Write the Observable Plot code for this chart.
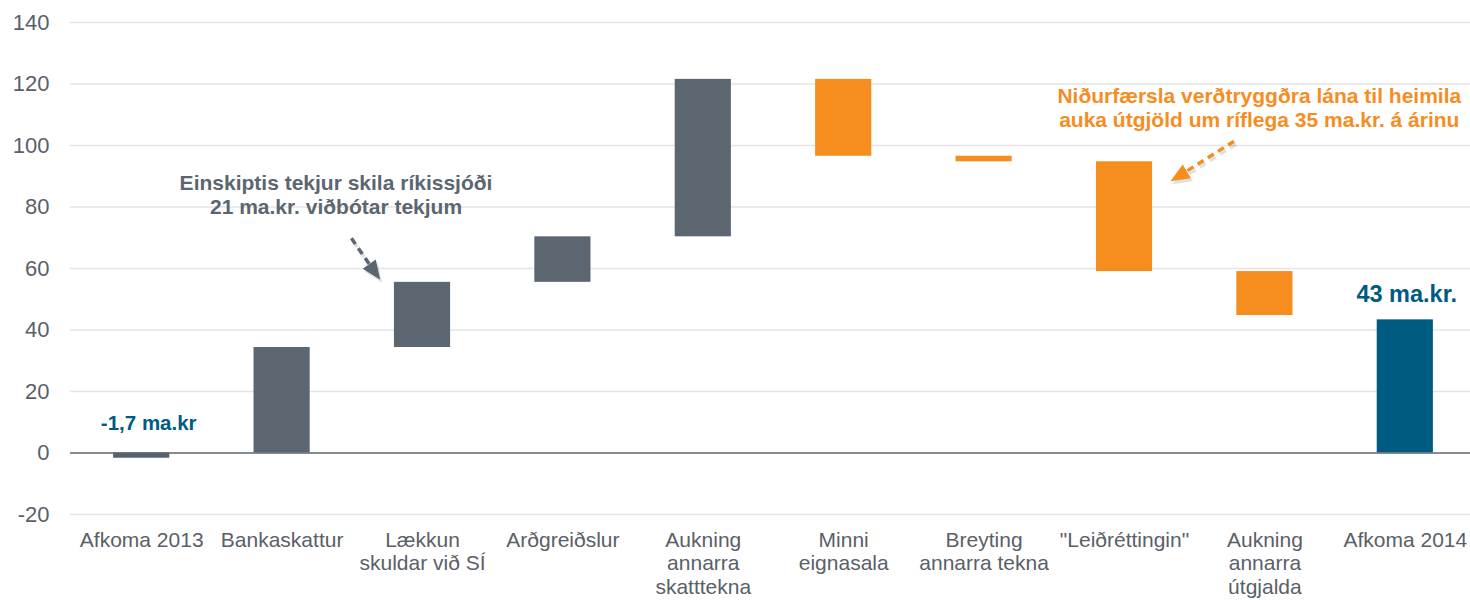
<!DOCTYPE html>
<html>
<head>
<meta charset="utf-8">
<script src="https://cdn.jsdelivr.net/npm/d3@7"></script>
<script src="https://cdn.jsdelivr.net/npm/@observablehq/plot@0.6"></script>
<style>
  html, body { margin: 0; padding: 0; background: #fff; }
  #chart { width: 1470px; height: 600px; }
</style>
</head>
<body>
<div id="chart"></div>
<script>
// ---- data ----
const categories = [
  "Afkoma 2013",
  "Bankaskattur",
  "Lækkun\nskuldar við SÍ",
  "Arðgreiðslur",
  "Aukning\nannarra\nskatttekna",
  "Minni\neignasala",
  "Breyting\nannarra tekna",
  "\"Leiðréttingin\"",
  "Aukning\nannarra\nútgjalda",
  "Afkoma 2014"
];
const barStart = [0, 0, 34.3, 55.5, 70.3, 121.5, 96.5, 94.7, 59.0, 0];
const barEnd   = [-1.7, 34.3, 55.5, 70.3, 121.5, 96.5, 94.7, 59.0, 44.7, 43.3];
const barKind  = ["start", "up", "up", "up", "up", "down", "down", "down", "down", "total"];
const yTicks = [-20, 0, 20, 40, 60, 80, 100, 120, 140];

// annotations (data coordinates: x = category index, y = value)
const startLabel = {t: "-1,7 ma.kr", x: 0.05, y: 9.6};
const endLabel = {t: "43 ma.kr.", x: 9.01, y: 51.4};

const noteTexts = [
  "Einskiptis tekjur skila ríkissjóði\n21 ma.kr. viðbótar tekjum",
  "Niðurfærsla verðtryggðra lána til heimila\nauka útgjöld um ríflega 35 ma.kr. á árinu"
];
const noteX = [1.384, 7.96];
const noteY = [84, 112.4];
const noteKind = ["grey", "orange"];

const arrowX1 = [1.494, 7.78];
const arrowY1 = [69.8, 101.4];
const arrowX2 = [1.650, 7.40];
const arrowY2 = [59.5, 90.4];
const arrowKind = ["grey", "orange"];
const arrowRotate = [145, 239];

// ---- build ----
const colors = {start: "#56626d", up: "#5b6670", down: "#f58d1f", total: "#005b82", grey: "#5b6670", orange: "#f58d1f", blue: "#005b82"};
const bars = categories.map((c, i) => ({i, start: barStart[i], end: barEnd[i], kind: barKind[i]}));
const notes = noteTexts.map((t, i) => ({t, x: noteX[i], y: noteY[i], kind: noteKind[i]}));
const arrows = arrowX1.map((d, i) => ({x1: arrowX1[i], y1: arrowY1[i], x2: arrowX2[i], y2: arrowY2[i], kind: arrowKind[i], rot: arrowRotate[i]}));

// narrow arrowhead symbol pointing up, centred near its middle
const arrowHead = {
  draw(context, size) {
    const s = Math.sqrt(size);
    context.moveTo(0, -s * 0.75);
    context.lineTo(s * 0.5, s * 0.45);
    context.lineTo(-s * 0.5, s * 0.45);
    context.closePath();
  }
};

const font = "Arial, 'Liberation Sans', sans-serif";

const chart = Plot.plot({
  width: 1470,
  height: 600,
  marginLeft: 70,
  marginRight: 0,
  marginTop: 22,
  marginBottom: 86,
  style: {fontFamily: font, fontSize: "21px", color: "#5a6068", background: "#fff"},
  x: {type: "linear", domain: [-0.5, 9.5], range: [71, 1475], axis: null},
  y: {domain: [-20, 140], axis: null},
  marks: [
    Plot.ruleY(yTicks.filter(d => d !== 0), {stroke: "#e4e4e4", strokeWidth: 1.5}),
    Plot.axisY(yTicks, {tickSize: 0, tickPadding: 21, label: null, fontSize: 22, tickFormat: d => String(d)}),
    Plot.rectY(bars, {
      x1: d => d.i - 0.2,
      x2: d => d.i + 0.2,
      y1: "start",
      y2: "end",
      fill: d => colors[d.kind]
    }),
    Plot.ruleY([0], {stroke: "#5b6670", strokeWidth: 1.5}),
    Plot.axisX(d3.range(categories.length), {
      tickSize: 0,
      tickPadding: 15,
      label: null,
      fontSize: 21,
      lineHeight: 1.14,
      tickFormat: i => categories[i]
    }),
    Plot.text([startLabel], {x: "x", y: "y", text: "t", fill: colors.blue, fontWeight: "bold", fontSize: 20.5}),
    Plot.text([endLabel], {x: "x", y: "y", text: "t", fill: colors.blue, fontWeight: "bold", fontSize: 23.5}),
    Plot.text(notes, {x: "x", y: "y", text: "t", fill: d => colors[d.kind], fontWeight: "bold", fontSize: 21, lineHeight: 1.15}),
    // arrow shadows
    Plot.link(arrows, {x1: "x1", y1: "y1", x2: "x2", y2: "y2", stroke: "#000", strokeOpacity: 0.12, strokeWidth: 3.5, strokeDasharray: "7,5", dx: 2, dy: 3}),
    Plot.dot(arrows, {x: "x2", y: "y2", symbol: arrowHead, r: 9, fill: "#000", fillOpacity: 0.12, stroke: "none", rotate: "rot", dx: 2, dy: 3}),
    // arrows
    Plot.link(arrows, {x1: "x1", y1: "y1", x2: "x2", y2: "y2", stroke: d => colors[d.kind], strokeWidth: 3.5, strokeDasharray: "7,5"}),
    Plot.dot(arrows, {x: "x2", y: "y2", symbol: arrowHead, r: 9, fill: d => colors[d.kind], stroke: "none", rotate: "rot"})
  ]
});

document.getElementById("chart").appendChild(chart);
</script>
</body>
</html>
